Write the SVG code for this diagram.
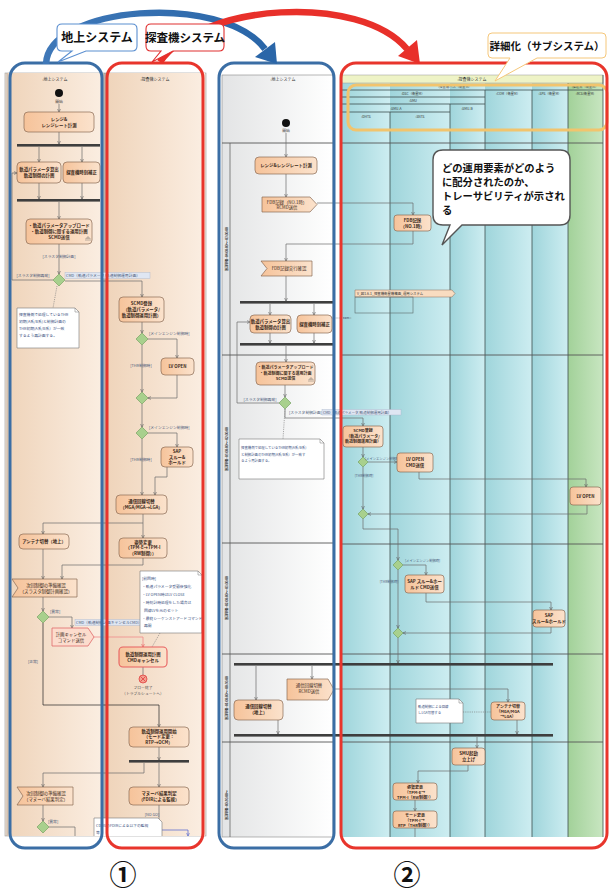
<svg xmlns="http://www.w3.org/2000/svg" width="609" height="893" viewBox="0 0 609 893">
<defs>
<style>
text{font-family:"Noto Sans CJK JP","Noto Sans",sans-serif;}
.bt{font-size:4.4px;font-weight:bold;fill:#3a2a20;text-anchor:middle;}
.st{font-size:3.8px;fill:#4a5a7a;}
.stm{font-size:3.8px;fill:#4a5a7a;text-anchor:middle;}
.nt{font-size:3.8px;fill:#3a4f80;}
.hd{font-size:4px;fill:#333;text-anchor:middle;}
.hs{font-size:3.3px;fill:#333;text-anchor:middle;}
.rt{font-size:3px;fill:#333;text-anchor:middle;font-weight:bold;}
.box{fill:url(#peach);stroke:#8a6a55;stroke-width:0.7;}
.flag{fill:url(#peach);stroke:#8a6a55;stroke-width:0.7;}
.dia{fill:#a8d08d;stroke:#6b9a58;stroke-width:0.6;}
.bar{fill:#3e3e3e;}
.c{fill:none;stroke:#6a6a6a;stroke-width:0.7;marker-end:url(#ar);}
.cn{fill:none;stroke:#6a6a6a;stroke-width:0.7;}
.dash{fill:none;stroke:#777;stroke-width:0.6;stroke-dasharray:1.2 1;}
.note{fill:#fff;stroke:#777;stroke-width:0.6;}
.grid{stroke:#3e4e4e;stroke-width:0.8;}
.part{stroke:#555;stroke-width:0.9;}
.lbl{fill:#dfe6f2;stroke:#a8b6cc;stroke-width:0.4;}
.co{font-weight:bold;fill:#111;}
</style>
<linearGradient id="beige" x1="0" x2="1" y1="0" y2="0"><stop offset="0" stop-color="#efd4ba"/><stop offset="1" stop-color="#fbeee2"/></linearGradient>
<linearGradient id="grey" x1="0" x2="1" y1="0" y2="0"><stop offset="0" stop-color="#e3e4e5"/><stop offset="1" stop-color="#ffffff"/></linearGradient>
<linearGradient id="cyan" x1="0" x2="1" y1="0" y2="0"><stop offset="0" stop-color="#9fd5db"/><stop offset="1" stop-color="#cdedf1"/></linearGradient>
<linearGradient id="green" x1="0" x2="1" y1="0" y2="0"><stop offset="0" stop-color="#a2d199"/><stop offset="1" stop-color="#c8e6c1"/></linearGradient>
<linearGradient id="peach" x1="0" x2="1" y1="0" y2="0"><stop offset="0" stop-color="#f6c39a"/><stop offset="1" stop-color="#fbe2cc"/></linearGradient>
<linearGradient id="blueArc" x1="0" x2="1" y1="0" y2="0"><stop offset="0" stop-color="#3f78b8"/><stop offset="1" stop-color="#2a66a8"/></linearGradient>
<marker id="ar" viewBox="0 0 6 6" refX="5.6" refY="3" markerWidth="3.5" markerHeight="3.5" markerUnits="userSpaceOnUse" orient="auto"><path d="M0,0.3 L5.8,3 L0,5.7" fill="none" stroke="#555" stroke-width="0.9"/></marker>
<marker id="arR" viewBox="0 0 6 6" refX="5.6" refY="3" markerWidth="3.5" markerHeight="3.5" markerUnits="userSpaceOnUse" orient="auto"><path d="M0,0.3 L5.8,3 L0,5.7" fill="none" stroke="#e05050" stroke-width="0.9"/></marker>
<marker id="arB" viewBox="0 0 6 6" refX="5.6" refY="3" markerWidth="3.5" markerHeight="3.5" markerUnits="userSpaceOnUse" orient="auto"><path d="M0,0.3 L5.8,3 L0,5.7" fill="none" stroke="#4a60d0" stroke-width="0.9"/></marker>
<clipPath id="clipL"><rect x="5" y="73" width="201" height="763"/></clipPath>
<clipPath id="clipM"><rect x="222" y="75" width="111" height="762"/></clipPath>
<clipPath id="clipR"><rect x="342" y="75" width="261" height="762"/></clipPath>
</defs>
<rect width="609" height="893" fill="#ffffff"/>

<!-- ============ LEFT PANEL BACKGROUND ============ -->
<g id="left-bg">
<rect x="5" y="73" width="201" height="763" fill="#f4e4d4" stroke="#999" stroke-width="0.6"/>
<rect x="7" y="73" width="97" height="763" fill="url(#beige)"/>
<rect x="106" y="73" width="99" height="763" fill="url(#beige)"/>
<line x1="104" y1="73" x2="104" y2="836" stroke="#555" stroke-width="0.7"/>
<line x1="106" y1="73" x2="106" y2="836" stroke="#555" stroke-width="0.7"/>
<line x1="7" y1="73" x2="7" y2="836" stroke="#888" stroke-width="0.5"/>
<text class="hd" x="55" y="81">:地上システム</text>
<text class="hd" x="155" y="81">:探査機システム</text>
</g>

<!-- ============ MIDDLE PANEL BACKGROUND ============ -->
<g id="middle-bg">
<rect x="222" y="75" width="111" height="762" fill="url(#grey)" stroke="#888" stroke-width="0.6"/>
<text class="hd" x="283" y="81">:地上システム</text>
<line x1="230" y1="143" x2="230" y2="837" stroke="#555" stroke-width="0.7"/>
<text class="rt" transform="translate(227.5,249) rotate(-90)">軌道制御−04:00:00〜−03:00:00</text>
<text class="rt" transform="translate(227.5,449) rotate(-90)">軌道制御−03:00:00〜−02:00:00</text>
<text class="rt" transform="translate(227.5,598) rotate(-90)">軌道制御−02:00:00〜−01:00:00</text>
<text class="rt" transform="translate(227.5,698) rotate(-90)">軌道制御−01:00:00〜−00:30:00</text>
<text class="rt" transform="translate(227.5,805) rotate(-90)">軌道制御−00:30:00〜</text>
</g>

<!-- ============ RIGHT PANEL BACKGROUND ============ -->
<g id="right-bg">
<rect x="342" y="83" width="48" height="754" fill="url(#cyan)"/>
<rect x="390" y="83" width="60" height="754" fill="url(#cyan)"/>
<rect x="450" y="83" width="35" height="754" fill="url(#cyan)"/>
<rect x="485" y="83" width="47" height="754" fill="url(#cyan)"/>
<rect x="532" y="83" width="36" height="754" fill="url(#cyan)"/>
<rect x="568" y="83" width="35" height="754" fill="url(#green)"/>
<rect x="342" y="75" width="261" height="8" fill="#eef3c6" stroke="#999" stroke-width="0.5"/>
<text class="hd" x="472" y="80.5">:探査機システム</text>
<g class="grid">
<line x1="342" y1="90" x2="603" y2="90"/>
<line x1="342" y1="97" x2="485" y2="97"/>
<line x1="342" y1="104" x2="485" y2="104"/>
<line x1="342" y1="112" x2="450" y2="112"/>
<line x1="390" y1="112" x2="390" y2="837"/>
<line x1="450" y1="104" x2="450" y2="837"/>
<line x1="485" y1="90" x2="485" y2="837"/>
<line x1="532" y1="90" x2="532" y2="837"/>
<line x1="568" y1="83" x2="568" y2="837"/>
<line x1="603" y1="75" x2="603" y2="837"/>
</g>
<text class="hs" x="455" y="88">:探査機バス（衛星M）</text>
<text class="hs" x="585" y="88">:推進系（衛星M）</text>
<text class="hs" x="413" y="95">:DSC（衛星M）</text>
<text class="hs" x="508" y="95">:COM（衛星M）</text>
<text class="hs" x="550" y="95">:SPS（衛星M）</text>
<text class="hs" x="585" y="95">:RCS(衛星M)</text>
<text class="hs" x="413" y="102">:SMU</text>
<text class="hs" x="396" y="109.5">:SMU-A</text>
<text class="hs" x="467" y="109.5">:SMU-B</text>
<text class="hs" x="366" y="117.5">:DHTS</text>
<text class="hs" x="420" y="117.5">:SNTS</text>
</g>

<!-- shared horizontal partitions (middle + right) -->
<g id="partitions" class="part">
<line x1="222" y1="143" x2="333" y2="143"/><line x1="342" y1="143" x2="603" y2="143"/>
<line x1="222" y1="355" x2="333" y2="355"/><line x1="342" y1="355" x2="603" y2="355"/>
<line x1="222" y1="543" x2="333" y2="543"/><line x1="342" y1="544" x2="603" y2="544"/>
<line x1="222" y1="654" x2="333" y2="654"/><line x1="342" y1="654" x2="603" y2="654"/>
<line x1="222" y1="742" x2="333" y2="742"/><line x1="342" y1="742" x2="603" y2="742"/>
</g>

<!-- ============ CONNECTORS ============ -->
<g id="connectors">
<g clip-path="url(#clipL)">
<path class="c" d="M59,104 V112"/>
<path class="c" d="M59,132 V144"/>
<path class="c" d="M39,147 V162"/><path class="c" d="M82,147 V162"/>
<path class="c" d="M39,183 V199"/><path class="c" d="M82,183 V199"/>
<path class="c" d="M59,202 V219"/>
<path class="c" d="M59,244 V274"/>
<path class="c" d="M53,280 H12 V173 H17"/>
<path class="c" d="M65,281 H142 V297"/>
<path class="dash" d="M57,286 L53,308"/>
<path class="c" d="M142,322 V333"/>
<path class="c" d="M148,339 H177 V358"/>
<path class="c" d="M142,345 V392"/>
<path class="c" d="M177,375 V398 H148"/>
<path class="c" d="M142,404 V427"/>
<path class="c" d="M148,433 H177 V447"/>
<path class="c" d="M142,439 V495"/>
<path class="c" d="M167,467 V477 H155 V495"/>
<path class="c" d="M143,514 V538"/>
<path class="c" d="M143,523 H43 V534"/>
<path class="c" d="M143,558 V565 H62 V579"/>
<path class="c" d="M43,549 V579"/>
<path class="c" d="M43,597 V611"/>
<path class="c" d="M49,617 H72 V628"/>
<path d="M94,637 H143 V647" fill="none" stroke="#f08a8a" stroke-width="0.8" marker-end="url(#arR)"/>
<path class="dash" d="M160,633 L152,647"/>
<path class="cn" d="M143,667 V675"/>
<path class="cn" d="M43,623 V705 H159 V727" style="stroke:#222;marker-end:url(#ar)"/>
<path class="c" d="M159,747 V760"/>
<path class="c" d="M159,763 V787"/>
<path class="c" d="M144,763 V773 H43 V787"/>
<path class="c" d="M43,805 V821"/>
<path class="cn" d="M49,827 H75 V840"/>
<path class="cn" d="M159,805 V822"/>
<path d="M162,830 H188 V836" fill="none" stroke="#4a60d0" stroke-width="0.7" marker-end="url(#arB)"/>
</g>
<path class="c" d="M286,133 V157"/>
<path class="c" d="M286,174 V197"/>
<path class="c" d="M317,203 H413 V215"/>
<path class="c" d="M413,231 V244 H286 V261"/>
<path class="c" d="M286,276 V301"/>
<path class="c" d="M270,304 V315"/><path class="c" d="M314,304 V315"/>
<path class="c" d="M270,333 V343"/><path class="c" d="M314,333 V343"/>
<path class="dash" d="M332,318 H352"/>
<path class="c" d="M286,346 V362"/>
<path class="c" d="M285,385 V397"/>
<path class="c" d="M279,403 H237 V322 H250"/>
<path class="c" d="M285,409 V418 H363 V426"/>
<path class="dash" d="M285,409 L283,439"/>
<path class="c" d="M256,666 V700"/><path class="c" d="M312,666 V679"/>
<path class="c" d="M334,689 H508 V702"/>
<path class="c" d="M278,720 V734"/>
<path class="c" d="M363,447 V457"/>
<path class="c" d="M368,462 H397"/>
<path class="c" d="M363,467 V509"/>
<path class="c" d="M419,472 V479 H586 V487"/>
<path class="c" d="M587,505 V514 H368"/>
<path class="c" d="M363,519 V529 H398 V560"/>
<path class="c" d="M403,565 H426 V575"/>
<path class="c" d="M398,570 V628"/>
<path class="c" d="M426,593 V602 H551 V610"/>
<path class="c" d="M551,627 V633 H403"/>
<path class="c" d="M398,638 V663"/>
<path class="dash" d="M463,712 H491"/>
<path class="c" d="M517,720 V734"/>
<path class="c" d="M477,737 V748"/>
<path class="c" d="M468,765 V771 H418 V783"/>
<path class="c" d="M415,800 V811"/>
<path class="cn" d="M415,828 V837"/>
</g>

<!-- ============ LEFT PANEL NODES ============ -->
<g id="left-nodes" clip-path="url(#clipL)">
<g id="L-start"><circle cx="59" cy="93" r="4" fill="#111"/><text class="stm" x="59" y="103" style="fill:#333">開始</text></g>
<g id="L-range"><rect class="box" x="24" y="112" width="70" height="20" rx="4"/><text class="bt" x="59" y="120.5">レンジ&amp;<tspan x="59" dy="6">レンジレート計測</tspan></text></g>
<rect class="bar" x="17" y="144" width="83" height="2.6"/>
<g id="L-orbitcalc"><rect class="box" x="17" y="162" width="44" height="21" rx="4"/><text class="bt" x="39" y="171">軌道パラメータ算出<tspan x="39" dy="6">軌道制御の計画</tspan></text></g>
<g id="L-timecorr"><rect class="box" x="63" y="162" width="37" height="21" rx="4"/><text class="bt" x="81.5" y="174">探査機時刻補正</text></g>
<rect class="bar" x="17" y="199" width="83" height="2.6"/>
<g id="L-upload"><rect class="box" x="26" y="219" width="66" height="25" rx="4"/><text class="bt" x="59" y="226.5">・軌道パラメータアップロード<tspan x="59" dy="6">・軌道制御に関する運用計画</tspan><tspan x="59" dy="6">SCMD送信</tspan></text><path d="M86,241 V238 M88,241 V238 M90,241 V238 M86,238 H90 M88,238 V236" stroke="#555" stroke-width="0.4" fill="none"/></g>
<text class="stm" x="59" y="258">[スラスタ制御計画]</text>
<g id="L-dec1"><polygon class="dia" points="59,274 65,280 59,286 53,280"/></g>
<text class="stm" x="33" y="277">[スラスタ制御再発]</text>
<rect class="lbl" x="65" y="272.5" width="85" height="6"/>
<text class="st" x="66" y="277.2">CMD（軌道パラメータ/軌道制御運用計画）</text>
<g id="L-note1"><path class="note" d="M17,308 H75 L79,312 V348 H17 Z"/><path d="M75,308 V312 H79" fill="none" stroke="#777" stroke-width="0.5"/>
<text class="nt" x="19" y="316">探査機側で処理しているTHR<tspan x="19" dy="7">初期(A系/B系)と制御計画の</tspan><tspan x="19" dy="7">THR初期(A系/B系）が一致</tspan><tspan x="19" dy="7">するよう再計画する。</tspan></text></g>
<g id="L-scmd"><rect class="box" x="119" y="297" width="45" height="25" rx="4"/><text class="bt" x="141.5" y="304.5">SCMD登録<tspan x="141.5" dy="6">（軌道パラメータ/</tspan><tspan x="141.5" dy="6">軌道制御運用計画）</tspan></text></g>
<g id="L-dec2"><polygon class="dia" points="142,333 148,339 142,345 136,339"/></g>
<text class="st" x="149" y="334.5">[メインエンジン制御時]</text>
<g id="L-lvopen"><rect class="box" x="161" y="358" width="33" height="17" rx="4"/><text class="bt" x="177.5" y="368">LV OPEN</text></g>
<text class="stm" x="141" y="367">[THR制御時]</text>
<g id="L-merge1"><polygon class="dia" points="142,392 148,398 142,404 136,398"/></g>
<g id="L-dec3"><polygon class="dia" points="142,427 148,433 142,439 136,433"/></g>
<text class="st" x="149" y="428.5">[メインエンジン制御時]</text>
<g id="L-sap"><rect class="box" x="161" y="447" width="32" height="20" rx="4"/><text class="bt" x="177" y="453">SAP<tspan x="177" dy="5.5">スルー&amp;</tspan><tspan x="177" dy="5.5">ホールド</tspan></text></g>
<text class="stm" x="141" y="461">[THR制御時]</text>
<g id="L-comsw"><rect class="box" x="116" y="495" width="51" height="19" rx="4"/><text class="bt" x="141.5" y="503">通信回線切替<tspan x="141.5" dy="6">（MGA/MGA→LGA）</tspan></text></g>
<g id="L-att"><rect class="box" x="119" y="538" width="48" height="20" rx="4"/><text class="bt" x="143" y="543.5">姿勢変更<tspan x="143" dy="5.5">（TPM-E→TPM-I</tspan><tspan x="143" dy="5.5">（RW制御））</tspan></text></g>
<g id="L-ant"><rect class="box" x="19" y="534" width="50" height="15" rx="4"/><text class="bt" x="44" y="543">アンテナ切替（地上）</text></g>
<g id="L-flag1"><path class="flag" d="M12,579 H77 V597 H12 L18,588 Z"/><text class="bt" x="46" y="587" style="font-weight:normal">次回制御の準備確認<tspan x="46" dy="6">（スラスタ制御計画確認）</tspan></text></g>
<g id="L-dec4"><polygon class="dia" points="43,611 49,617 43,623 37,617"/></g>
<text class="st" x="50" y="613">[異常]</text>
<g id="L-cancelsend"><path d="M52,628 H88 L94,637 L88,646 H52 Z" fill="#fcdccd" stroke="#e06a6a" stroke-width="0.8"/><text class="bt" x="71" y="636" style="font-weight:normal">計画キャンセル<tspan x="71" dy="6">コマンド送信</tspan></text></g>
<rect class="lbl" x="75" y="619.5" width="87" height="6"/>
<text class="st" x="76" y="624.2">CMD（軌道制御計画キャンセルCMD）</text>
<g id="L-note2"><path class="note" d="M140,571 H198 L202,575 V633 H140 Z"/><path d="M198,571 V575 H202" fill="none" stroke="#777" stroke-width="0.5"/>
<text class="nt" x="142" y="580">[前回時]<tspan x="142" dy="7.9">・軌道パラメータ受領後強化</tspan><tspan x="142" dy="7.9">・LV OPEN時はLV CLOSE</tspan><tspan x="142" dy="7.9">・時刻計時処理をした場合は</tspan><tspan x="144" dy="7.9">回線LVを元のセット</tspan><tspan x="142" dy="7.9">・最終シーケンストアードコマンド</tspan><tspan x="144" dy="7.9">再開</tspan></text></g>
<g id="L-cmdcancel"><rect x="119" y="647" width="48" height="20" rx="4" fill="url(#peach)" stroke="#e86060" stroke-width="1.1"/><text class="bt" x="143" y="656">軌道制御運用計画<tspan x="143" dy="6">CMDキャンセル</tspan></text></g>
<g id="L-final"><circle cx="143" cy="679" r="4" fill="#f4a090" stroke="#e04040" stroke-width="0.8"/><path d="M140.5,676.5 L145.5,681.5 M145.5,676.5 L140.5,681.5" stroke="#e04040" stroke-width="0.8"/>
<text class="stm" x="143" y="689" style="fill:#555">フロー終了<tspan x="143" dy="5.5">（トラブルシュートへ）</tspan></text></g>
<text class="stm" x="33" y="663">[正常]</text>
<g id="L-opstart"><rect class="box" x="129" y="727" width="60" height="20" rx="4"/><text class="bt" x="159" y="732.5">軌道制御運用開始<tspan x="159" dy="5.5">（モード変更：</tspan><tspan x="159" dy="5.5">RTP→OCM）</tspan></text></g>
<rect class="bar" x="129" y="760" width="60" height="2.6"/>
<g id="L-maneuver"><rect class="box" x="129" y="787" width="60" height="18" rx="4"/><text class="bt" x="159" y="795">マヌーバ結果判定<tspan x="159" dy="6">（FDIRによる監視）</tspan></text></g>
<g id="L-flag2"><path class="flag" d="M17,787 H73 V805 H17 L23,796 Z"/><text class="bt" x="46" y="795" style="font-weight:normal">次回制御の準備確認<tspan x="46" dy="6">（マヌーバ結果判定）</tspan></text></g>
<g id="L-dec5"><polygon class="dia" points="43,821 49,827 43,833 37,827"/></g>
<text class="st" x="48" y="823">[異常]</text>
<text class="stm" x="152" y="816">[NO GO]</text>
<g id="L-note3"><path class="note" d="M94,818 H158 L162,822 V845 H94 Z"/>
<text class="nt" x="96" y="827">CDOSのFDIRによる以下の監視<tspan x="96" dy="7">等</tspan></text></g>
</g>

<!-- ============ MIDDLE PANEL NODES ============ -->
<g id="middle-nodes" clip-path="url(#clipM)">
<g id="M-start"><circle cx="286" cy="123" r="4" fill="#111"/><text class="stm" x="286" y="131.5" style="fill:#333">開始</text></g>
<g id="M-range"><rect class="box" x="255" y="157" width="62" height="17" rx="4"/><text class="bt" x="286" y="167">レンジ&amp;レンジレート計測</text></g>
<g id="M-fdbsend"><path class="flag" d="M262,197 H310 L317,204.5 L310,212 H262 Z"/><text class="bt" x="287" y="203.5" style="font-weight:normal">FDB記録（NO.1時）<tspan x="287" dy="5.5">RCMD送信</tspan></text></g>
<g id="M-fdbcheck"><path class="flag" d="M261,261 H312 V276 H261 L267,268.5 Z"/><text class="bt" x="289" y="270" style="font-weight:normal">FDB記録実行確認</text></g>
<rect class="bar" x="240" y="301" width="109" height="2.6"/>
<g id="M-orbitcalc"><rect class="box" x="250" y="315" width="41" height="18" rx="4"/><text class="bt" x="270.5" y="323">軌道パラメータ算出<tspan x="270.5" dy="5.5">軌道制御の計画</tspan></text></g>
<g id="M-timecorr"><rect class="box" x="297" y="315" width="35" height="18" rx="4"/><text class="bt" x="314.5" y="325.5">探査機時刻補正</text></g>
<rect class="bar" x="240" y="343" width="109" height="2.6"/>
<g id="M-upload"><rect class="box" x="256" y="362" width="59" height="23" rx="4"/><text class="bt" x="285.5" y="369" style="font-size:4px">・軌道パラメータアップロード<tspan x="285.5" dy="5.5">・軌道制御に関する運用計画</tspan><tspan x="285.5" dy="5.5">SCMD送信</tspan></text><path d="M309,382 V379 M311,382 V379 M313,382 V379 M309,379 H313 M311,379 V377" stroke="#555" stroke-width="0.4" fill="none"/></g>
<g id="M-dec1"><polygon class="dia" points="285,397 291,403 285,409 279,403"/></g>
<text class="stm" x="260" y="400.5">[スラスタ制御再発]</text>
<text class="st" x="289" y="414">[スラスタ制御計画]</text>
<g id="M-note"><path class="note" d="M239,439 H320 L324,443 V479 H239 Z"/><path d="M320,439 V443 H324" fill="none" stroke="#777" stroke-width="0.5"/>
<text class="nt" x="241" y="449" style="font-size:3.4px">探査機側で処理しているTHR初期(A系/B系)<tspan x="241" dy="6.5">と制御計画のTHR初期(A系/B系）が一致す</tspan><tspan x="241" dy="6.5">るよう再計画する。</tspan></text></g>
<g id="M-comsw"><rect class="box" x="234" y="700" width="49" height="20" rx="4"/><text class="bt" x="258.5" y="708">通信回線切替<tspan x="258.5" dy="6">（地上）</tspan></text></g>
<g id="M-comsend"><path class="flag" d="M287,679 H328 L334,689.5 L328,700 H287 Z"/><text class="bt" x="309" y="687" style="font-weight:normal">通信回線切替<tspan x="309" dy="6">RCMD送信</tspan></text></g>
</g>
<rect class="bar" x="234" y="663" width="319" height="2.6"/>
<rect class="bar" x="234" y="734" width="319" height="2.6"/>
<rect class="lbl" x="322" y="409.5" width="79" height="5.5"/>
<text class="st" x="323" y="413.8" style="font-size:3.5px">CMD（軌道パラメータ/軌道制御運用計画）</text>

<!-- ============ RIGHT PANEL NODES ============ -->
<g id="right-nodes" clip-path="url(#clipR)">
<g id="R-fdb"><rect class="box" x="394" y="215" width="37" height="16" rx="3"/><text class="bt" x="412.5" y="222">FDB記録<tspan x="412.5" dy="5.5">（NO.1時）</tspan></text></g>
<g id="R-frame"><path d="M355,290 H452 L455,293.5 L452,297 H355 Z" fill="#f9dcc0" stroke="#8a6a55" stroke-width="0.5"/><text class="st" x="357" y="295.3" style="fill:#333;font-size:3.4px">V_図1.6-1_探査機衛星機構画_運用システム</text>
<rect x="355" y="297" width="58" height="16" fill="none" stroke="#5a6a6a" stroke-width="0.6"/></g>
<text class="st" x="343" y="319" style="font-size:3px">nam</text>
<g id="R-scmd"><rect class="box" x="343" y="426" width="40" height="21" rx="3"/><text class="bt" x="363" y="432" style="font-size:4px">SCMD登録<tspan x="363" dy="5.5">（軌道パラメータ/</tspan><tspan x="363" dy="5.5">軌道制御運用計画）</tspan></text></g>
<g id="R-dec1"><polygon class="dia" points="363,457 368,462 363,467 358,462"/></g>
<text class="st" x="365" y="459.5" style="font-size:3.3px">[メインエンジン制御時]</text>
<g id="R-lvcmd"><rect class="box" x="397" y="453" width="36" height="19" rx="3"/><text class="bt" x="415" y="461">LV OPEN<tspan x="415" dy="6">CMD送信</tspan></text></g>
<text class="stm" x="364" y="476.5" style="font-size:3.3px">[THR制御時]</text>
<g id="R-merge1"><polygon class="dia" points="363,509 368,514 363,519 358,514"/></g>
<g id="R-lvopen"><rect class="box" x="570" y="487" width="31" height="18" rx="3"/><text class="bt" x="585.5" y="497.5">LV OPEN</text></g>
<g id="R-dec2"><polygon class="dia" points="398,560 403,565 398,570 393,565"/></g>
<text class="st" x="405" y="562" style="font-size:3.3px">[メインエンジン制御時]</text>
<g id="R-sapcmd"><rect class="box" x="405" y="575" width="39" height="18" rx="3"/><text class="bt" x="424.5" y="583">SAP スルー&amp;ホー<tspan x="424.5" dy="6">ルド CMD送信</tspan></text></g>
<text class="stm" x="389" y="583" style="font-size:3.3px">[THR制御時]</text>
<g id="R-merge2"><polygon class="dia" points="398,628 403,633 398,638 393,633"/></g>
<g id="R-sap"><rect class="box" x="533" y="610" width="32" height="17" rx="3"/><text class="bt" x="549" y="617">SAP<tspan x="549" dy="6">スルー&amp;ホールド</tspan></text></g>
<g id="R-note"><path class="note" d="M416,699 H459 L463,703 V723 H416 Z"/><path d="M459,699 V703 H463" fill="none" stroke="#777" stroke-width="0.5"/>
<text class="nt" x="418" y="708" style="font-size:3.4px">軌道制御による回線<tspan x="418" dy="6">しLGA切替する</tspan></text></g>
<g id="R-ant"><rect class="box" x="491" y="702" width="34" height="18" rx="3"/><text class="bt" x="508" y="707.5" style="font-size:4px">アンテナ切替<tspan x="508" dy="5">（MGA/MGA</tspan><tspan x="508" dy="5">→LGA）</tspan></text></g>
<g id="R-smu"><rect class="box" x="452" y="748" width="33" height="17" rx="3"/><text class="bt" x="468.5" y="755">SMU起動<tspan x="468.5" dy="6">立上げ</tspan></text></g>
<g id="R-att"><rect class="box" x="393" y="783" width="44" height="17" rx="3"/><text class="bt" x="415" y="788.5" style="font-size:4px">姿勢変更<tspan x="415" dy="5">（TPM-E→</tspan><tspan x="415" dy="5">TPM-I（RW制御））</tspan></text></g>
<g id="R-mode"><rect class="box" x="393" y="811" width="44" height="17" rx="3"/><text class="bt" x="415" y="816.5" style="font-size:4px">モード変更<tspan x="415" dy="5">（TPM-I→</tspan><tspan x="415" dy="5">RTP（THR制御））</tspan></text></g>
</g>

<rect id="highlight" x="348" y="85" width="259" height="45" rx="8" fill="none" stroke="#f2c46d" stroke-width="3"/>

<g id="bubble">
<path d="M443,150 H560 Q570,150 570,160 V215 Q570,225 560,225 H462 L442,245 L450,225 H443 Q433,225 433,215 V160 Q433,150 443,150 Z" fill="#fff" stroke="#555" stroke-width="1.4"/>
<text class="co" x="442" y="172" style="font-size:10.3px">どの運用要素がどのよう<tspan x="442" dy="14">に配分されたのか、</tspan><tspan x="442" dy="14">トレーサビリティが示され</tspan><tspan x="442" dy="14">る</tspan></text>
</g>

<g id="frames" fill="none" stroke-width="3">
<rect x="10" y="63" width="92" height="785" rx="15" stroke="#3b6ea5"/>
<rect x="107" y="63" width="96" height="785" rx="15" stroke="#e8352c"/>
<rect x="219" y="63" width="115" height="785" rx="15" stroke="#3b6ea5"/>
<rect x="341" y="63" width="266" height="785" rx="15" stroke="#e8352c"/>
</g>

<g id="arcs">
<path d="M46,64 C48,6 222,-8 265,49" fill="none" stroke="url(#blueArc)" stroke-width="6.5"/>
<polygon points="277,64 255,57 275,42" fill="#2a66a8"/>
<path d="M160,62 C200,3 360,-7 407,49" fill="none" stroke="#e8302a" stroke-width="6.5"/>
<polygon points="420,64 398,56 417,40" fill="#e8302a"/>
</g>

<g id="callout-ground">
<path d="M62,24 H132 Q137,24 137,29 V46 Q137,51 132,51 H86 L58,62 L72,51 H62 Q57,51 57,46 V29 Q57,24 62,24 Z" fill="#fff" stroke="#5b8fd0" stroke-width="1.1"/>
<text class="co" x="97" y="42" text-anchor="middle" style="font-size:12px">地上システム</text>
</g>
<g id="callout-sc">
<path d="M151,24 H219 Q224,24 224,29 V46 Q224,51 219,51 H173 L152,62 L161,51 H151 Q146,51 146,46 V29 Q146,24 151,24 Z" fill="#fff" stroke="#e03030" stroke-width="1.1"/>
<text class="co" x="185" y="42" text-anchor="middle" style="font-size:11.5px">探査機システム</text>
</g>
<g id="callout-detail">
<path d="M492,33 H602 Q606,33 606,37 V54 Q606,58 602,58 H537 L495,81 L510,58 H492 Q488,58 488,54 V37 Q488,33 492,33 Z" fill="#fff" stroke="#f5c77a" stroke-width="1"/>
<text class="co" x="547" y="50" text-anchor="middle" style="font-size:10.5px">詳細化（サブシステム）</text>
</g>

<text class="co" x="123" y="885" text-anchor="middle" style="font-size:27px">①</text>
<text class="co" x="407" y="885" text-anchor="middle" style="font-size:27px">②</text>
</svg>
